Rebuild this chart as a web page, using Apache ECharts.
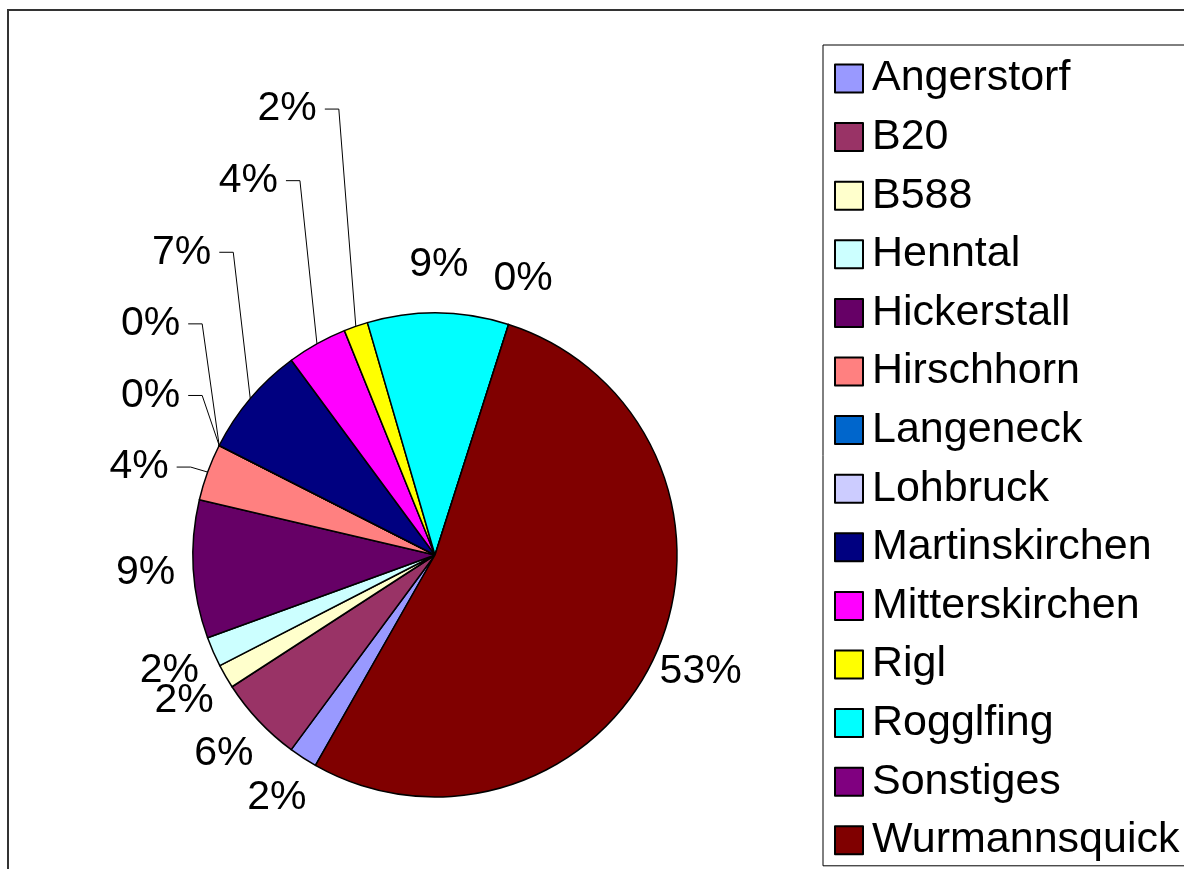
<!DOCTYPE html>
<html><head><meta charset="utf-8">
<script src="https://cdn.jsdelivr.net/npm/echarts@6/dist/echarts.min.js"></script>
<style>html,body{margin:0;padding:0;background:#fff}#c{width:1184px;height:869px}</style>
</head><body><div id="c"></div>
<script>
const categories = ['Angerstorf','B20','B588','Henntal','Hickerstall','Hirschhorn','Langeneck','Lohbruck','Martinskirchen','Mitterskirchen','Rigl','Rogglfing','Sonstiges','Wurmannsquick'];
const values = [1.9, 5.7, 1.6, 2.0, 9.2, 3.8, 0, 0, 7.4, 4.0, 1.6, 9.4, 0, 53.2];
const colors = ['#9999FF','#993366','#FFFFCC','#CCFFFF','#660066','#FF8080','#0066CC','#CCCCFF','#000080','#FF00FF','#FFFF00','#00FFFF','#800080','#800000'];
// labels that Excel moved away and joined with a leader line (in clockwise order)
const withLeader = ['Hirschhorn','Langeneck','Lohbruck','Martinskirchen','Mitterskirchen','Rigl'];

const FONT = 'Liberation Sans, Arial, sans-serif';
const LABEL_GAP = 48;      // distance of plain labels outside the rim
const LEADER_STEP = 71.6;  // vertical spacing of stacked leader labels
const chart = echarts.init(document.getElementById('c'), null, {renderer: 'canvas'});

function geom(i) {
  const lay = chart.getModel().getSeriesByIndex(0).getData().getItemLayout(i);
  const mid = (lay.startAngle + lay.endAngle) / 2;
  const ux = Math.cos(mid), uy = Math.sin(mid);
  return {cx: lay.cx, cy: lay.cy, r: lay.r, ux: ux, uy: uy,
          ex: lay.cx + lay.r * ux, ey: lay.cy + lay.r * uy};
}

const data = categories.map((name, i) => ({
  name: name,
  value: values[i],
  itemStyle: {color: colors[i]},
  labelLine: {show: withLeader.indexOf(name) >= 0}
}));

chart.setOption({
  animation: false,
  backgroundColor: '#fff',
  color: colors,
  graphic: [{
    type: 'rect', silent: true,
    shape: {x: 8, y: 10, width: 2000, height: 2000},
    style: {fill: 'none', stroke: '#333', lineWidth: 2}
  }],
  legend: {
    orient: 'vertical',
    left: 823, top: 45,
    padding: [12, 30, 4, 11],
    borderColor: '#000', borderWidth: 1,
    icon: 'rect',
    itemWidth: 28, itemHeight: 28,
    itemGap: 15.6,
    itemStyle: {borderColor: '#000', borderWidth: 2},
    textStyle: {fontFamily: FONT, fontSize: 43, color: '#000', lineHeight: 43, padding: [0, 0, 0, 4]},
    data: categories
  },
  series: [{
    type: 'pie',
    center: [435, 555],
    radius: 242,
    startAngle: -119.6,
    clockwise: true,
    avoidLabelOverlap: false,
    data: data,
    itemStyle: {borderColor: '#000', borderWidth: 1.5},
    emphasis: {disabled: true},
    label: {
      show: true, position: 'outside',
      formatter: p => Math.round(p.percent) + '%',
      fontFamily: FONT, fontSize: 41, color: '#000'
    },
    labelLine: {show: true, length: 20, length2: 14, lineStyle: {color: '#000', width: 1}},
    labelLayout: function (p) {
      const i = p.dataIndex;
      const g = geom(i);
      const k = withLeader.indexOf(categories[i]);
      if (k < 0) {
        const d = g.r + LABEL_GAP;
        return {x: g.cx + d * g.ux, y: g.cy + d * g.uy, align: 'center', verticalAlign: 'middle'};
      }
      const b = geom(categories.indexOf(withLeader[0]));
      const y = b.ey - 5 - k * LEADER_STEP;
      const tx = g.ex - 17;
      return {
        x: tx - 22, y: y, align: 'right', verticalAlign: 'middle',
        labelLinePoints: [[g.ex, g.ey], [tx, y], [tx - 14, y]]
      };
    }
  }]
});
</script></body></html>
